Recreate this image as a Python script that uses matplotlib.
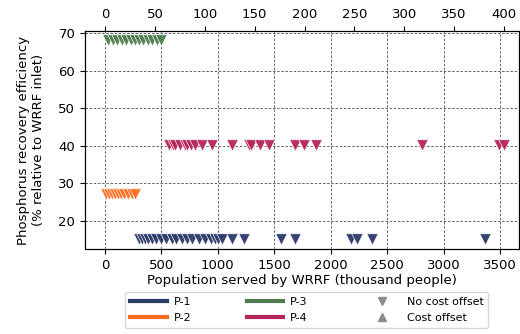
import matplotlib
matplotlib.use("Agg")
import matplotlib.pyplot as plt
from matplotlib.lines import Line2D

# Data (population in thousand people, efficiency in %)
p1_pop = [300, 330, 350, 380, 414, 450, 500, 542, 592, 630, 681, 725, 770, 829, 888, 940, 977, 1000, 1036, 1125, 1229,
          1560, 1679, 2176, 2235, 2368, 3369]
p1_eff = 15
p2_pop = [10, 35, 60, 90, 115, 140, 170, 200, 235, 270]
p2_eff = 27.2
p3_pop = [30, 70, 110, 150, 190, 230, 270, 305, 340, 380, 420, 460, 500]
p3_eff = 68.2
p4_pop = [563, 600, 622, 666, 711, 725, 760, 799, 858, 947, 1125, 1273, 1295, 1376, 1450, 1687, 1761, 1870, 2812,
          3493, 3538]
p4_eff = 40.2

series_names = ["P-1", "P-2", "P-3", "P-4"]
series_colors = ["#2c3a68", "#ff6e20", "#4f7d4f", "#b5245a"]

bottom_ticks = [0, 500, 1000, 1500, 2000, 2500, 3000, 3500]
top_ticks = [0, 50, 100, 150, 200, 250, 300, 350, 400]
y_ticks = [20, 30, 40, 50, 60, 70]

fig = plt.figure(figsize=(5.2, 3.34), dpi=100)
ax = fig.add_axes([0.1635, 0.2545, 0.8346, 0.6527])

all_pops = [p1_pop, p2_pop, p3_pop, p4_pop]
all_effs = [p1_eff, p2_eff, p3_eff, p4_eff]
for pops, eff, c in zip(all_pops, all_effs, series_colors):
    ax.scatter(pops, [eff] * len(pops), marker="v", s=68, color=c,
               edgecolors="white", linewidths=0.5, zorder=3, alpha=0.95)

ax.set_xlim(-177, 3668)
ax.set_ylim(12.4, 70.6)
ax.set_xticks(bottom_ticks)
ax.set_yticks(y_ticks)
ax.tick_params(labelsize=9.5, direction="out", length=3.5)
ax.grid(True, color="0.3", linestyle=(0, (3, 2)), linewidth=0.6, zorder=0)
ax.set_axisbelow(True)
ax.set_xlabel("Population served by WRRF (thousand people)", fontsize=9.5, labelpad=2)
ax.set_ylabel("Phosphorus recovery efficiency\n(% relative to WRRF inlet)", fontsize=9.5, labelpad=10)

ax2 = ax.twiny()
ax2.set_xlim(-20.05, 415)
ax2.set_xticks(top_ticks)
ax2.tick_params(labelsize=9.5, direction="out", length=3.5)

handles = [
    Line2D([], [], color=series_colors[0], lw=3),
    Line2D([], [], color=series_colors[1], lw=3),
    Line2D([], [], color=series_colors[2], lw=3),
    Line2D([], [], color=series_colors[3], lw=3),
    Line2D([], [], color="0.55", marker="v", linestyle="none", markersize=6),
    Line2D([], [], color="0.55", marker="^", linestyle="none", markersize=6),
]
labels = series_names + ["No cost offset", "Cost offset"]
leg = fig.legend(handles, labels, ncol=3, fontsize=8, loc="center",
                 bbox_to_anchor=(0.59, 0.072), frameon=True, columnspacing=5.0,
                 handlelength=3.3, handletextpad=0.6, borderpad=0.45, labelspacing=0.55)
leg.get_frame().set_edgecolor("0.8")

fig.savefig("out.png", dpi=100)
